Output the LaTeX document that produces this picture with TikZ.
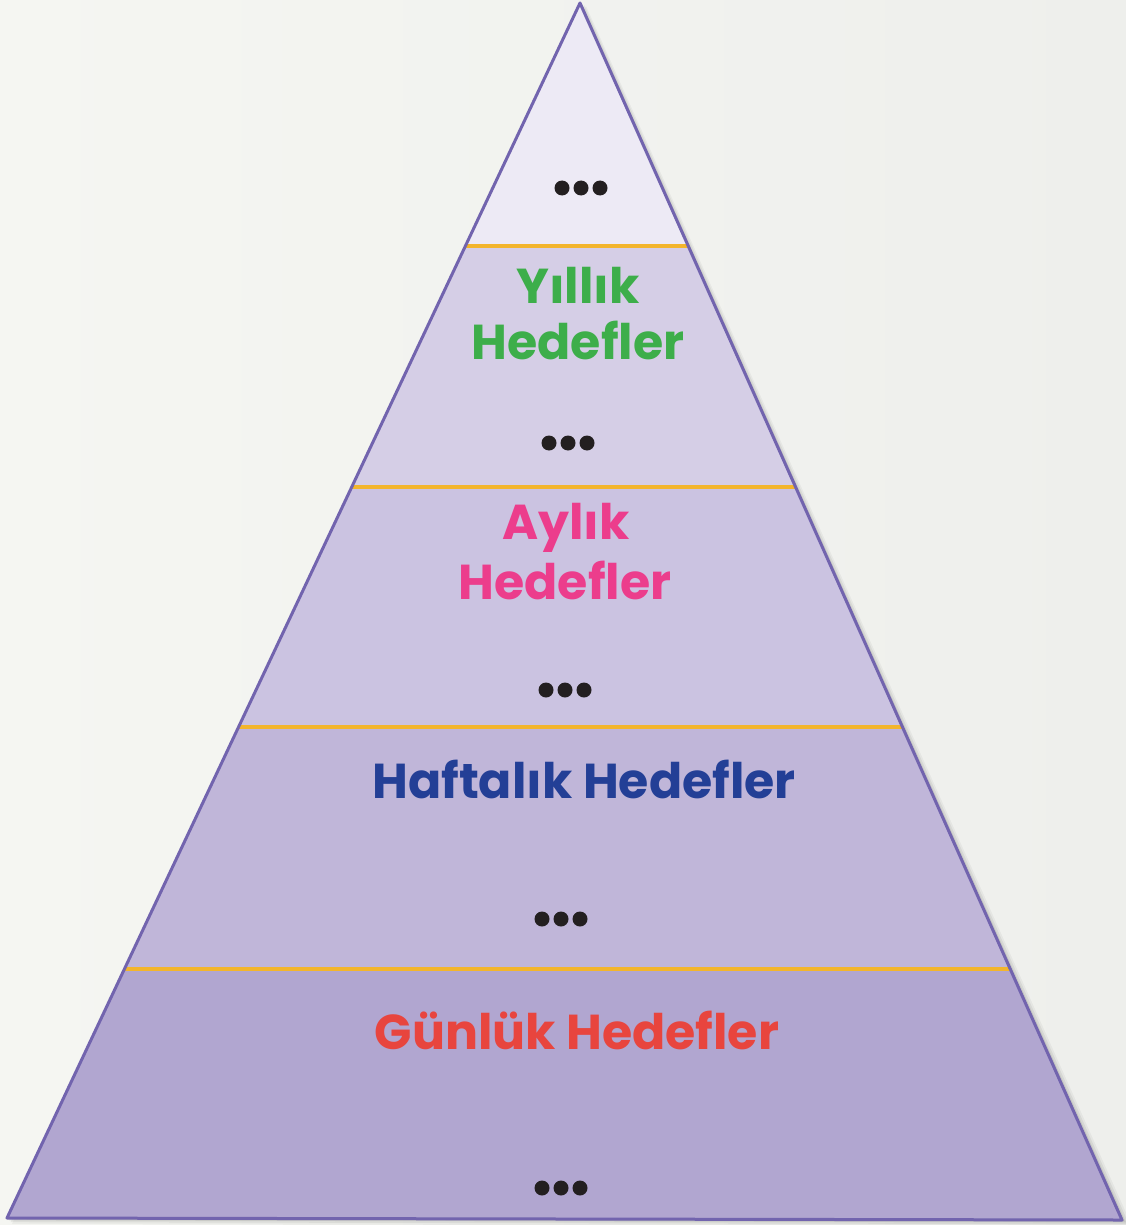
\documentclass[tikz,border=0pt]{standalone}
\usepackage{fontspec}
\setmainfont{Poppins}[BoldFont={* Bold}]
\usetikzlibrary{calc}
\definecolor{bgL}{HTML}{F5F6F2}
\definecolor{bgR}{HTML}{EEEFEC}
\definecolor{bandA}{HTML}{EDEAF5}
\definecolor{bandB}{HTML}{D5CEE6}
\definecolor{bandC}{HTML}{CBC3E1}
\definecolor{bandD}{HTML}{C0B6D9}
\definecolor{bandE}{HTML}{B1A6D0}
\definecolor{edge}{HTML}{7264AE}
\definecolor{sep}{HTML}{F3B52C}
\definecolor{tgreen}{HTML}{3DAE4A}
\definecolor{tpink}{HTML}{EC3D8C}
\definecolor{tblue}{HTML}{233F96}
\definecolor{tred}{HTML}{E8453E}
\definecolor{dotc}{HTML}{231F20}
\tikzset{
  label/.style={font=\bfseries\fontsize{49}{55}\selectfont, align=center, inner sep=0pt},
  dotsym/.style={circle, fill=dotc, minimum size=15pt, inner sep=0pt},
  sepline/.style={sep, line width=3.2pt},
}
\newcommand{\dotrow}[3]{%
  \node[dotsym] (#1a) at (#2-19,#3) {};
  \node[dotsym] (#1b) at (#2,#3) {};
  \node[dotsym] (#1c) at (#2+19,#3) {};
}
\begin{document}
\begin{tikzpicture}[x=1pt,y=-1pt]
\shade[left color=bgL, right color=bgR] (0,0) rectangle (1126,1225);
\useasboundingbox (0,0) rectangle (1126,1225);
\coordinate (apex) at (580,3);
\coordinate (bl) at (7,1218);
\coordinate (br) at (1122,1220);
% shadow
\foreach \s/\o in {10/0.04,7/0.06,4/0.08,2/0.1}{
  \fill[black, opacity=\o] ($(apex)+(\s*0.6,\s*0.3)$) -- ($(br)+(\s,\s*0.6)$) -- ($(bl)+(\s*0.5,\s*0.6)$) -- cycle;
}
\begin{scope}
\clip (apex) -- (br) -- (bl) -- cycle;
\fill[bandA] (0,0) rectangle (1126,246);
\fill[bandB] (0,246) rectangle (1126,487);
\fill[bandC] (0,487) rectangle (1126,727);
\fill[bandD] (0,727) rectangle (1126,969);
\fill[bandE] (0,969) rectangle (1126,1225);
\draw[sepline] (0,246) -- (1126,246);
\draw[sepline] (0,487) -- (1126,487);
\draw[sepline] (0,727) -- (1126,727);
\draw[sepline] (0,969) -- (1126,969);
\end{scope}
\draw[edge, line width=3pt, line join=round] (apex) -- (br) -- (bl) -- cycle;
% texts
\node[label, text=tgreen] (y1) at (578,285) {Yıllık};
\node[label, text=tgreen] (y2) at (578,340) {Hedefler};
\node[label, text=tpink] (a1) at (566,528) {Aylık};
\node[label, text=tpink] (a2) at (565,580) {Hedefler};
\node[label, text=tblue] (h1) at (584,779) {Haftalık Hedefler};
\node[label, text=tred] (g1) at (577,1030) {Günlük Hedefler};
% dots
\dotrow{d1}{581}{188}
\dotrow{d2}{568}{443}
\dotrow{d3}{565}{690}
\dotrow{d4}{561}{919}
\dotrow{d5}{561}{1188}
\end{tikzpicture}
\end{document}
